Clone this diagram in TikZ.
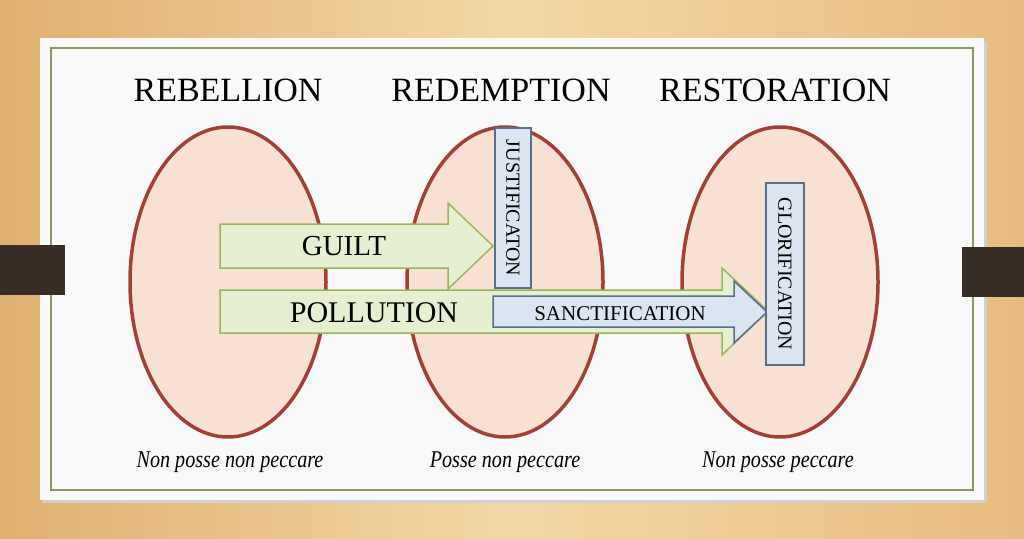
\documentclass[tikz,border=0pt]{standalone}
\usepackage{fontspec}
\setmainfont{Liberation Serif}
\newfontfamily\mottofont[FakeStretch=0.84]{Liberation Serif}
\usetikzlibrary{positioning}
\usetikzlibrary{shapes.geometric}

\definecolor{woodL}{RGB}{224,176,112}
\definecolor{woodM}{RGB}{243,215,166}
\definecolor{woodR}{RGB}{232,188,128}
\definecolor{cardwhite}{RGB}{249,249,249}
\definecolor{cardline}{RGB}{138,152,98}
\definecolor{barbrown}{RGB}{56,46,38}
\definecolor{ovalfill}{RGB}{248,224,210}
\definecolor{ovalline}{RGB}{163,64,54}
\definecolor{sinfill}{RGB}{230,239,208}
\definecolor{sinline}{RGB}{152,182,88}
\definecolor{gracefill}{RGB}{219,229,241}
\definecolor{graceline}{RGB}{86,112,140}

\begin{document}
\begin{tikzpicture}[line cap=round,line join=miter,x=1pt,y=-1pt,
    oval/.style={ellipse,fill=ovalfill,draw=ovalline,line width=3.5pt,minimum width=196pt,minimum height=310pt,inner sep=0pt},
    sinarrow/.style={fill=sinfill,draw=sinline,line width=1.5pt},
    gracearrow/.style={fill=gracefill,draw=graceline,line width=1.5pt},
    gracebox/.style={fill=gracefill,draw=graceline,line width=1.5pt,inner sep=0pt,rotate=-90,font=\fontsize{20}{22}\selectfont},
    stagehd/.style={anchor=base,font=\fontsize{34}{38}\selectfont},
    motto/.style={anchor=base,font=\mottofont\fontsize{24}{28}\selectfont\itshape},
    arrowtxt/.style={anchor=base}]
  % background and card
  \useasboundingbox (0,0) rectangle (1024,538);
  \shade[left color=woodL,right color=woodR,middle color=woodM] (0,0) rectangle (1024,538);
  \fill[black!18] (42,41) rectangle (987,503);
  \fill[cardwhite] (40,38) rectangle (984,500);
  \draw[cardline,line width=1.2pt] (51,48) rectangle (973,490);
  \fill[barbrown] (0,245) rectangle (65,295);
  \fill[barbrown] (962,247) rectangle (1024,297);

  % the three states
  \node[oval] (rebel) at (228,282) {};
  \node[oval] (redeem) at (505,282) {};
  \node[oval] (restore) at (780,282) {};
  \node[stagehd] (rebelhd) at (228,101) {REBELLION};
  \node[stagehd] (redeemhd) at (501,101) {REDEMPTION};
  \node[stagehd] (restorehd) at (775,101) {RESTORATION};
  \node[motto] (rebelmt) at (230,467) {Non posse non peccare};
  \node[motto] (redeemmt) at (505,467) {Posse non peccare};
  \node[motto] (restoremt) at (778,467) {Non posse peccare};

  % guilt and pollution
  \draw[sinarrow] (220,224) -- (448,224) -- (448,203) -- (493,246) -- (448,289) -- (448,268) -- (220,268) -- cycle;
  \node[arrowtxt,font=\fontsize{29}{32}\selectfont] (guilt) at (344,255) {GUILT};
  \draw[sinarrow] (220,290) -- (722,290) -- (722,268) -- (768,311) -- (722,355) -- (722,333) -- (220,333) -- cycle;
  \node[arrowtxt,font=\fontsize{30}{33}\selectfont] (pollution) at (374,322) {POLLUTION};

  % grace
  \node[gracebox,minimum width=160pt,minimum height=36pt] (justify) at (513,208) {JUSTIFICATON};
  \draw[gracearrow] (493,296) -- (734,296) -- (734,281) -- (767,312) -- (734,343) -- (734,327) -- (493,327) -- cycle;
  \node[arrowtxt,font=\fontsize{21}{24}\selectfont] (sanctify) at (620,320) {SANCTIFICATION};
  \node[gracebox,minimum width=182pt,minimum height=38pt] (glorify) at (785,274) {GLORIFICATION};
\end{tikzpicture}
\end{document}
